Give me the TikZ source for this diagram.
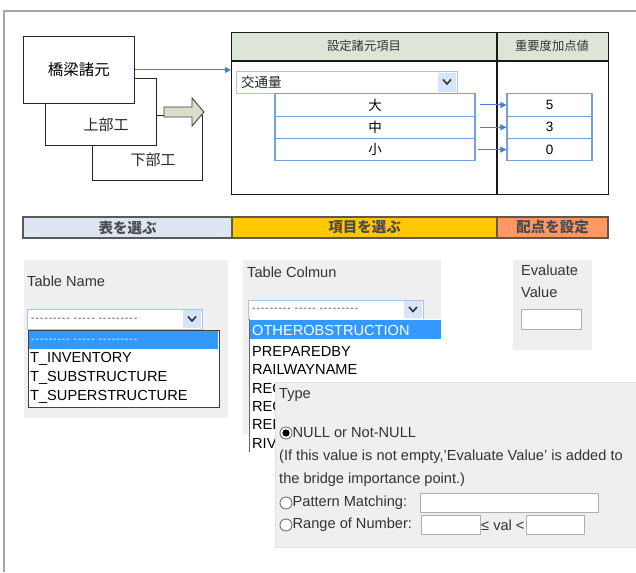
\documentclass[tikz,border=0pt]{standalone}
\usepackage{fontspec}
\setmainfont{Liberation Sans}
\newfontfamily\jpfont{Noto Sans CJK JP}
\usetikzlibrary{arrows.meta}
\definecolor{framec}{RGB}{166,166,166}
\definecolor{hdrc}{RGB}{221,230,214}
\definecolor{bluel}{RGB}{74,126,200}
\definecolor{rowc}{RGB}{120,158,220}
\definecolor{arrfill}{RGB}{216,222,200}
\definecolor{barA}{RGB}{220,230,242}
\definecolor{barB}{RGB}{255,200,0}
\definecolor{barC}{RGB}{255,152,100}
\definecolor{panelc}{RGB}{239,239,239}
\definecolor{hilite}{RGB}{51,153,255}
\definecolor{ddborder}{RGB}{170,195,230}
\definecolor{btnfill}{RGB}{214,228,247}
\definecolor{inpborder}{RGB}{175,175,175}
\definecolor{txtc}{RGB}{51,51,51}
\newcommand\hy{-\kern0.9pt}
\newcommand\placeholder{\hy\hy\hy\hy\hy\hy\hy\hy\hy\ \hy\hy\hy\hy\hy\ \hy\hy\hy\hy\hy\hy\hy\hy-}
\tikzset{
  wbox/.style={draw=black!85, line width=0.9pt, fill=white, anchor=north west, inner sep=0pt},
  jptxt/.style={font=\jpfont\fontsize{15}{17}\selectfont, text=black!85, inner sep=0pt},
  hdrtxt/.style={font=\jpfont\fontsize{12.3}{14}\selectfont, text=black!80, inner sep=0pt},
  rowbox/.style={draw=rowc, line width=1.2pt, fill=white, minimum height=22.3pt, inner sep=0pt, font=\jpfont\fontsize{13.5}{15}\selectfont},
  blarrow/.style={draw=bluel, line width=1pt, -{Triangle[length=6pt,width=6pt]}},
  barbox/.style={draw=black!65, line width=1.5pt, minimum height=21pt, inner sep=0pt, text=black!70, font=\jpfont\bfseries\fontsize{14.5}{16}\selectfont},
  panelbox/.style={fill=panelc, anchor=north west, inner sep=0pt},
  lbl/.style={anchor=west, inner sep=0pt, text=txtc, font=\fontsize{14.6}{16}\selectfont},
  item/.style={anchor=west, inner sep=0pt, text=black, font=\fontsize{14.6}{16}\selectfont},
  ddbox/.style={draw=ddborder, line width=1pt, fill=white, anchor=north west, inner sep=0pt},
  ddbtn/.style={fill=btnfill, anchor=north east, inner sep=0pt},
  chev/.style={line width=1.6pt, draw=black!80},
  dashtxt/.style={anchor=west, inner sep=0pt, font=\fontsize{10.5}{12}\selectfont},
  inp/.style={draw=inpborder, line width=1pt, fill=white, anchor=north west, inner sep=0pt},
  radio/.style={circle, draw=black!55, line width=0.9pt, fill=white, minimum size=12pt, inner sep=0pt}
}
\begin{document}
\begin{tikzpicture}[x=1pt,y=-1pt]
\useasboundingbox (0,0) rectangle (636,572);
\fill[white] (0,0) rectangle (636,572);
% outer frame
\draw[framec, line width=2pt] (4,572) -- (4,11) -- (636,11);

% stacked boxes
\node[wbox, minimum width=110pt, minimum height=65pt] (kabu) at (92,115) {};
\node[wbox, minimum width=111pt, minimum height=67pt] (jobu) at (45,78) {};
\node[wbox, minimum width=111pt, minimum height=67pt, font=\jpfont\fontsize{15.5}{17}\selectfont] (kyo) at (23,36) {橋梁諸元};
\node[jptxt] (tjobu) at (106,125) {上部工};
\node[jptxt] (tkabu) at (153,160) {下部工};
% block arrow
\draw[draw=black!75, line width=0.9pt, fill=arrfill] (164,107) -- (192,107) -- (192,98) -- (204,112) -- (192,126) -- (192,117) -- (164,117) -- cycle;

% right table
\fill[hdrc] (231,32) rectangle (608,61);
\node[draw=black!90, line width=1.2pt, anchor=north west, minimum width=377pt, minimum height=162pt, inner sep=0pt] (tbl) at (231,32) {};
\draw[black!90, line width=1.2pt] (tbl.west |- 0,61) -- (tbl.east |- 0,61);
\draw[black!90, line width=1.2pt] (497,32) -- (497,194);
\node[hdrtxt] (h1) at (364,46) {設定諸元項目};
\node[hdrtxt] (h2) at (552,46) {重要度加点値};
\draw[blarrow] (kyo.east) -- (kyo.east -| tbl.west);

% dropdown 交通量
\node[ddbox, minimum width=221pt, minimum height=22pt] (kotsu) at (236,71) {};
\node[jptxt, anchor=west, font=\jpfont\fontsize{13.5}{15}\selectfont] (tkotsu) at (241,82) {交通量};
\node[ddbtn, minimum width=18pt, minimum height=19pt] (kbtn) at (456,72.5) {};
\draw[chev] (443,79.5) -- (447,84) -- (451,79.5);

% rows
\node[rowbox, minimum width=200pt] (r1) at (375,105) {大};
\node[rowbox, minimum width=200pt] (r2) at (375,127.3) {中};
\node[rowbox, minimum width=200pt] (r3) at (375,149.6) {小};
\node[rowbox, minimum width=85pt, font=\fontsize{13.5}{15}\selectfont] (v1) at (549.5,105) {5};
\node[rowbox, minimum width=85pt, font=\fontsize{13.5}{15}\selectfont] (v2) at (549.5,127.3) {3};
\node[rowbox, minimum width=85pt, font=\fontsize{13.5}{15}\selectfont] (v3) at (549.5,149.6) {0};
\draw[blarrow, shorten <=4pt] (r1) -- (v1);
\draw[blarrow, shorten <=4pt] (r2) -- (v2);
\draw[blarrow, shorten <=2pt] (r3) -- (v3);

% step bar
\node[barbox, fill=barA, minimum width=209pt] (b1) at (127.5,227.5) {表を選ぶ};
\node[barbox, fill=barB, minimum width=265pt] (b2) at (364.5,227.5) {項目を選ぶ};
\node[barbox, fill=barC, minimum width=111pt] (b3) at (552.5,227.5) {配点を設定};

% panel 1: Table Name
\node[panelbox, minimum width=204pt, minimum height=158pt] (p1) at (24,260) {};
\node[lbl] (tn) at (27,281) {Table Name};
\node[ddbox, minimum width=175pt, minimum height=20pt] (d1) at (27,309) {};
\node[ddbtn, minimum width=18pt, minimum height=18pt] (d1b) at (201.5,310) {};
\draw[chev] (188,316.5) -- (192,321) -- (196,316.5);
\node[dashtxt, text=black!70] (d1t) at (31,319.5) {\placeholder};
\node[draw=black!75, line width=1.3pt, fill=white, anchor=north west, minimum width=191pt, minimum height=77pt, inner sep=0pt] (l1) at (28,330) {};
\fill[hilite] (29,331) rectangle (218,349);
\node[dashtxt, text=white] (l1t) at (31,340.5) {\placeholder};
\node[item] (i1) at (30,359) {T\_INVENTORY};
\node[item] (i2) at (30,378) {T\_SUBSTRUCTURE};
\node[item] (i3) at (30,397) {T\_SUPERSTRUCTURE};

% panel 2: Table Colmun
\node[panelbox, minimum width=198pt, minimum height=174pt] (p2) at (243,260) {};
\node[lbl] (tc) at (247,272) {Table Colmun};
\node[ddbox, minimum width=175pt, minimum height=19pt] (d2) at (248,300) {};
\node[ddbtn, minimum width=18pt, minimum height=17pt] (d2b) at (422.5,301) {};
\draw[chev] (409,307) -- (413,311.5) -- (417,307);
\node[dashtxt, text=black!70] (d2t) at (252,310) {\placeholder};
\fill[white] (249,319) rectangle (441,452);
\draw[black!60, line width=1pt] (249,319) -- (249,452);
\fill[hilite] (250,320) rectangle (441,339);
\node[item, text=white] (c0) at (252,330) {OTHEROBSTRUCTION};
\node[item] (c1) at (252,351) {PREPAREDBY};
\node[item] (c2) at (252,369) {RAILWAYNAME};
\node[item] (c3) at (252,388) {REG};
\node[item] (c4) at (252,406) {REG};
\node[item] (c5) at (252,424) {REI};
\node[item] (c6) at (252,443) {RIV};

% panel 3: Evaluate Value
\node[panelbox, minimum width=79pt, minimum height=90pt] (p3) at (513,260) {};
\node[lbl] (ev1) at (521,270) {Evaluate};
\node[lbl] (ev2) at (521,292) {Value};
\node[inp, minimum width=60pt, minimum height=20pt] (evbox) at (521,309) {};

% Type panel
\fill[panelc] (275,382) rectangle (636,547);
\draw[black!12, line width=1pt] (636,382) -- (275,382) -- (275,547) -- (636,547);
\node[lbl] (ty) at (279,395) {Type};
\node[radio] (rd1) at (286,433) {};
\fill[black] (rd1.center) circle (3.6pt);
\node[lbl] (rt1) at (292.5,433) {NULL or Not-NULL};
\node[lbl] (rt2) at (279,457) {(If this value is not empty,'Evaluate Value' is added to};
\node[lbl] (rt3) at (279,480) {the bridge importance point.)};
\node[radio] (rd2) at (286,503) {};
\node[lbl] (rt4) at (292.5,503) {Pattern Matching:};
\node[inp, minimum width=178pt, minimum height=19pt] (pm) at (420,493) {};
\node[radio] (rd3) at (286,525) {};
\node[lbl] (rt5) at (292.5,525) {Range of Number:};
\node[inp, minimum width=59pt, minimum height=19pt] (rg1) at (421,515) {};
\node[lbl] (rt6) at (481,525) {≤ val <};
\node[inp, minimum width=58pt, minimum height=19pt] (rg2) at (526,515) {};
\end{tikzpicture}
\end{document}
